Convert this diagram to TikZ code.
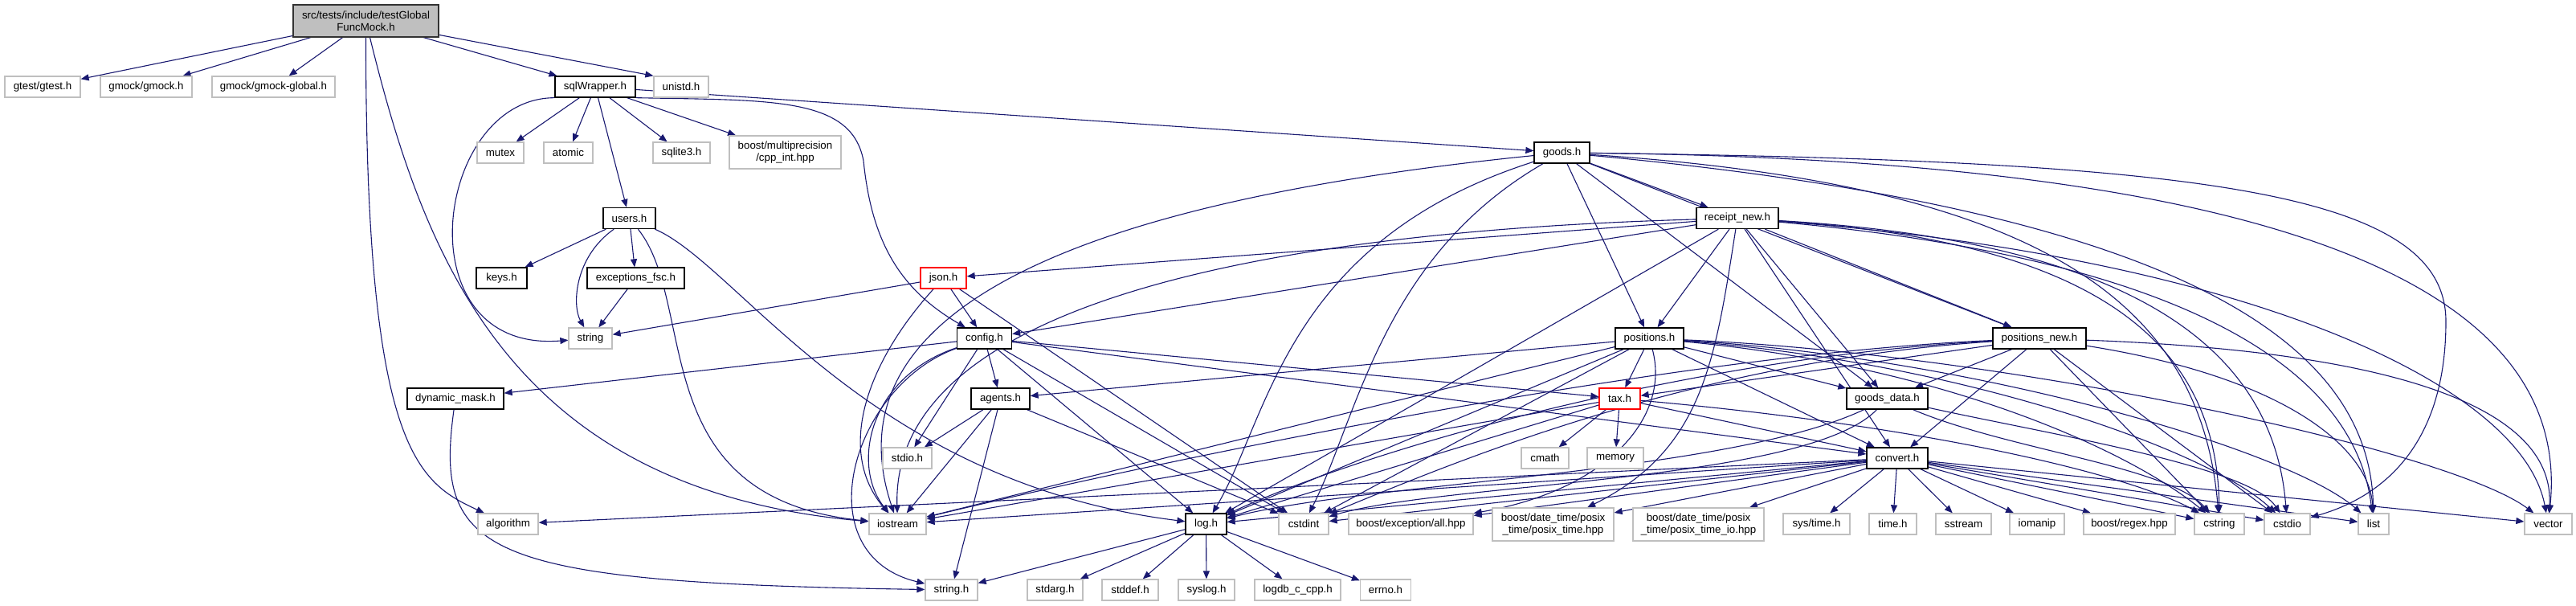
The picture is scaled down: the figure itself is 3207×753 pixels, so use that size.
\documentclass[tikz,border=0pt]{standalone}
\usepackage{fontspec}
\setmainfont{Liberation Sans}
\usetikzlibrary{arrows.meta}
\definecolor{edgeblue}{HTML}{191970}
\definecolor{ngray}{HTML}{BFBFBF}
\pgfdeclarelayer{bg}
\pgfsetlayers{bg,main}
\begin{document}
\begin{tikzpicture}[x=1pt,y=-1pt,
 box/.style={inner sep=0pt, minimum height=26pt, font=\fontsize{13.3}{15.5}\selectfont, fill=white, line width=1.3pt, align=center},
 gnode/.style={box, draw=ngray},
 dnode/.style={box, draw=black},
 rnode/.style={box, draw=red},
 mnode/.style={box, draw=black!80, fill=ngray},
 inc/.style={draw=edgeblue, line width=1.1pt, -{Triangle[length=10pt,width=8pt]}}
]
\useasboundingbox (0,0) rectangle (3207,753);
% ---------- nodes ----------
\node[mnode, minimum width=181pt, minimum height=40pt] (main) at (455.5,26) {src/tests/include/testGlobal\\FuncMock.h};
\node[gnode, minimum width=94pt] (gtest) at (53,108) {gtest/gtest.h};
\node[gnode, minimum width=114pt] (gmock) at (182,108) {gmock/gmock.h};
\node[gnode, minimum width=153pt] (gmockg) at (340.5,108) {gmock/gmock-global.h};
\node[dnode, minimum width=100pt] (sqlw) at (741,108) {sqlWrapper.h};
\node[gnode, minimum width=68pt] (unistd) at (848,108) {unistd.h};
\node[gnode, minimum width=58pt] (mutex) at (623,190) {mutex};
\node[gnode, minimum width=61pt] (atomic) at (707.5,190) {atomic};
\node[gnode, minimum width=71pt] (sqlite) at (848.5,190) {sqlite3.h};
\node[gnode, minimum width=139pt, minimum height=41pt] (boostmp) at (977.5,189.5) {boost/multiprecision\\/cpp\_int.hpp};
\node[dnode, minimum width=69pt] (goods) at (1944.5,190) {goods.h};
\node[dnode, minimum width=65pt] (users) at (783.5,271.5) {users.h};
\node[dnode, minimum width=102pt] (receipt) at (2163,271.5) {receipt\_new.h};
\node[dnode, minimum width=63pt] (keys) at (624.5,346) {keys.h};
\node[dnode, minimum width=121pt] (excfsc) at (791.5,346) {exceptions\_fsc.h};
\node[rnode, minimum width=57pt] (json) at (1174.5,346) {json.h};
\node[gnode, minimum width=54pt] (string) at (735,421) {string};
\node[dnode, minimum width=68pt] (config) at (1225.5,421) {config.h};
\node[dnode, minimum width=85pt] (positions) at (2053.5,421) {positions.h};
\node[dnode, minimum width=116pt] (posnew) at (2539,421) {positions\_new.h};
\node[dnode, minimum width=120pt] (dynmask) at (567,496) {dynamic\_mask.h};
\node[dnode, minimum width=73pt] (agents) at (1245.5,496) {agents.h};
\node[rnode, minimum width=51pt] (tax) at (2016.5,496) {tax.h};
\node[dnode, minimum width=101pt] (goodsdata) at (2349.5,496) {goods\_data.h};
\node[gnode, minimum width=61pt] (stdio) at (1129.5,570) {stdio.h};
\node[gnode, minimum width=59pt] (cmath) at (1923.5,570) {cmath};
\node[gnode, minimum width=70pt] (memory) at (2011,570) {memory};
\node[dnode, minimum width=76pt] (convert) at (2362,570) {convert.h};
\node[gnode, minimum width=75pt] (algorithm) at (632.5,652) {algorithm};
\node[gnode, minimum width=71pt] (iostream) at (1117.5,652) {iostream};
\node[dnode, minimum width=51pt] (log) at (1501.5,652) {log.h};
\node[gnode, minimum width=62pt] (cstdint) at (1623,652) {cstdint};
\node[gnode, minimum width=155pt] (bexc) at (1756.5,652) {boost/exception/all.hpp};
\node[gnode, minimum width=151pt, minimum height=41pt] (bpt) at (1933.5,652.5) {boost/date\_time/posix\\\_time/posix\_time.hpp};
\node[gnode, minimum width=163pt, minimum height=41pt] (bptio) at (2114.5,652.5) {boost/date\_time/posix\\\_time/posix\_time\_io.hpp};
\node[gnode, minimum width=83pt] (systime) at (2261.5,652) {sys/time.h};
\node[gnode, minimum width=59pt] (timeh) at (2356.5,652) {time.h};
\node[gnode, minimum width=69pt] (sstream) at (2444.5,652) {sstream};
\node[gnode, minimum width=68pt] (iomanip) at (2536,652) {iomanip};
\node[gnode, minimum width=114pt] (bregex) at (2651,652) {boost/regex.hpp};
\node[gnode, minimum width=62pt] (cstring) at (2763,652) {cstring};
\node[gnode, minimum width=57pt] (cstdio) at (2847.5,652) {cstdio};
\node[gnode, minimum width=38pt] (list) at (2955,652) {list};
\node[gnode, minimum width=59pt] (vector) at (3172.5,652) {vector};
\node[gnode, minimum width=65pt] (stringh) at (1184.5,734) {string.h};
\node[gnode, minimum width=69pt] (stdarg) at (1313.5,734) {stdarg.h};
\node[gnode, minimum width=70pt] (stddef) at (1407,734) {stddef.h};
\node[gnode, minimum width=70pt] (syslog) at (1502,734) {syslog.h};
\node[gnode, minimum width=107pt] (logdb) at (1615.5,734) {logdb\_c\_cpp.h};
\node[gnode, minimum width=63pt] (errno) at (1725,734) {errno.h};
% ---------- edges ----------
\begin{pgfonlayer}{bg}
% main
\draw[inc] (main) -- (gtest);
\draw[inc] (main) -- (gmock);
\draw[inc] (main) -- (gmockg);
\draw[inc] (main) -- (sqlw);
\draw[inc] (main) -- (unistd.north west);
\draw[inc] (main.south) .. controls (455,560) and (520,600) .. (algorithm);
\draw[inc] (main) .. controls (530,330) and (640,610) .. (iostream);
% sqlWrapper
\draw[inc] (sqlw) -- (mutex);
\draw[inc] (sqlw) -- (atomic);
\draw[inc] (sqlw) -- (sqlite);
\draw[inc] (sqlw) -- (boostmp);
\draw[inc] (sqlw) -- (users);
\draw[inc] (sqlw.south west) .. controls (540,122) and (500,440) .. (string);
\draw[inc] (sqlw.south east) .. controls (960,125) and (1060,120) .. (1075,200) .. controls (1085,300) and (1120,360) .. (config);
\draw[inc] (sqlw) -- (goods);
% users
\draw[inc] (users) -- (keys);
\draw[inc] (users) -- (excfsc);
\draw[inc] (users) .. controls (715,320) and (712,380) .. (string);
\draw[inc] (users) .. controls (870,380) and (800,620) .. (iostream);
\draw[inc] (users) .. controls (920,330) and (1080,600) .. (log);
\draw[inc] (excfsc) -- (string);
% json
\draw[inc] (json) -- (string);
\draw[inc] (json) -- (config);
\draw[inc] (json) .. controls (1080,450) and (1040,560) .. (iostream);
\draw[inc] (json) -- (cstdint);
% config
\draw[inc] (config) -- (dynmask);
\draw[inc] (config) -- (agents);
\draw[inc] (config) -- (stdio);
\draw[inc] (config) .. controls (1080,470) and (1060,580) .. (iostream);
\draw[inc] (config) .. controls (1060,480) and (1000,690) .. (stringh);
\draw[inc] (config) -- (log);
\draw[inc] (config) -- (cstdint);
\draw[inc] (config) -- (tax);
\draw[inc] (config) -- (convert);
\draw[inc] (dynmask) .. controls (540,690) and (600,725) .. (stringh);
% agents
\draw[inc] (agents) -- (stdio);
\draw[inc] (agents) -- (iostream);
\draw[inc] (agents) -- (stringh);
\draw[inc] (agents) -- (cstdint);
% goods
\draw[inc] (goods) -- (receipt);
\draw[inc] (goods) -- (positions);
\draw[inc] (goods) -- (posnew);
\draw[inc] (goods) -- (goodsdata);
\draw[inc] (goods) .. controls (1250,260) and (1040,420) .. (iostream);
\draw[inc] (goods) .. controls (1600,300) and (1580,520) .. (log);
\draw[inc] (goods) .. controls (1720,320) and (1690,520) .. (cstdint);
\draw[inc] (goods) .. controls (2550,230) and (2740,380) .. (cstring);
\draw[inc] (goods) .. controls (2750,200) and (3045,240) .. (3045,400) .. controls (3045,560) and (2960,620) .. (cstdio);
\draw[inc] (goods) .. controls (2700,260) and (2950,420) .. (list);
\draw[inc] (goods) .. controls (2900,200) and (3200,380) .. (vector);
% receipt_new
\draw[inc] (receipt) -- (json);
\draw[inc] (receipt) -- (config);
\draw[inc] (receipt) .. controls (1500,290) and (1110,400) .. (iostream);
\draw[inc] (receipt) -- (log);
\draw[inc] (receipt) -- (positions);
\draw[inc] (receipt) -- (posnew);
\draw[inc] (receipt) -- (goodsdata);
\draw[inc] (receipt) -- (convert);
\draw[inc] (receipt) .. controls (2135,450) and (2120,560) .. (bpt);
\draw[inc] (receipt) .. controls (2600,300) and (2760,420) .. (cstring);
\draw[inc] (receipt) .. controls (2650,300) and (2830,430) .. (cstdio);
\draw[inc] (receipt) .. controls (2700,320) and (2930,450) .. (list);
\draw[inc] (receipt) .. controls (2800,320) and (3140,480) .. (vector);
% positions
\draw[inc] (positions) -- (agents);
\draw[inc] (positions) -- (tax);
\draw[inc] (positions) -- (goodsdata);
\draw[inc] (positions) -- (convert);
\draw[inc] (positions) -- (iostream);
\draw[inc] (positions) -- (log);
\draw[inc] (positions) -- (cstdint);
\draw[inc] (positions) .. controls (2080,520) and (2000,610) .. (bexc);
\draw[inc] (positions) .. controls (2420,455) and (2650,560) .. (cstring);
\draw[inc] (positions) .. controls (2440,450) and (2750,560) .. (cstdio);
\draw[inc] (positions) .. controls (2460,445) and (2850,560) .. (list);
\draw[inc] (positions) .. controls (2500,440) and (3050,560) .. (vector);
% positions_new
\draw[inc] (posnew) -- (tax);
\draw[inc] (posnew) -- (goodsdata);
\draw[inc] (posnew) -- (convert);
\draw[inc] (posnew) .. controls (2100,440) and (1500,560) .. (iostream);
\draw[inc] (posnew) .. controls (2100,445) and (1700,560) .. (log);
\draw[inc] (posnew) .. controls (2100,450) and (1800,580) .. (cstdint);
\draw[inc] (posnew) -- (cstring);
\draw[inc] (posnew) -- (cstdio);
\draw[inc] (posnew) .. controls (2850,470) and (2950,560) .. (list);
\draw[inc] (posnew) .. controls (3050,440) and (3180,530) .. (vector);
% tax
\draw[inc] (tax) -- (cmath);
\draw[inc] (tax) -- (memory);
\draw[inc] (tax) -- (convert);
\draw[inc] (tax) -- (iostream);
\draw[inc] (tax) -- (log);
\draw[inc] (tax) .. controls (2400,530) and (2650,590) .. (cstring);
% goods_data
\draw[inc] (goodsdata) .. controls (2150,590) and (1700,600) .. (log);
\draw[inc] (goodsdata) .. controls (2250,600) and (1800,600) .. (cstdint);
\draw[inc] (goodsdata) .. controls (2500,560) and (2700,580) .. (cstring);
\draw[inc] (goodsdata) .. controls (2550,540) and (2800,580) .. (cstdio);
% convert
\draw[inc] (convert) -- (algorithm);
\draw[inc] (convert) -- (iostream);
\draw[inc] (convert) -- (log);
\draw[inc] (convert) -- (cstdint);
\draw[inc] (convert) -- (bexc);
\draw[inc] (convert) -- (bpt);
\draw[inc] (convert) -- (bptio);
\draw[inc] (convert) -- (systime);
\draw[inc] (convert) -- (timeh);
\draw[inc] (convert) -- (sstream);
\draw[inc] (convert) -- (iomanip);
\draw[inc] (convert) -- (bregex);
\draw[inc] (convert) -- (cstring);
\draw[inc] (convert) -- (cstdio);
\draw[inc] (convert) -- (list);
\draw[inc] (convert) -- (vector);
% log
\draw[inc] (log) -- (stringh);
\draw[inc] (log) -- (stdarg);
\draw[inc] (log) -- (stddef);
\draw[inc] (log) -- (syslog);
\draw[inc] (log) -- (logdb);
\draw[inc] (log) -- (errno);
\end{pgfonlayer}
\end{tikzpicture}
\end{document}
